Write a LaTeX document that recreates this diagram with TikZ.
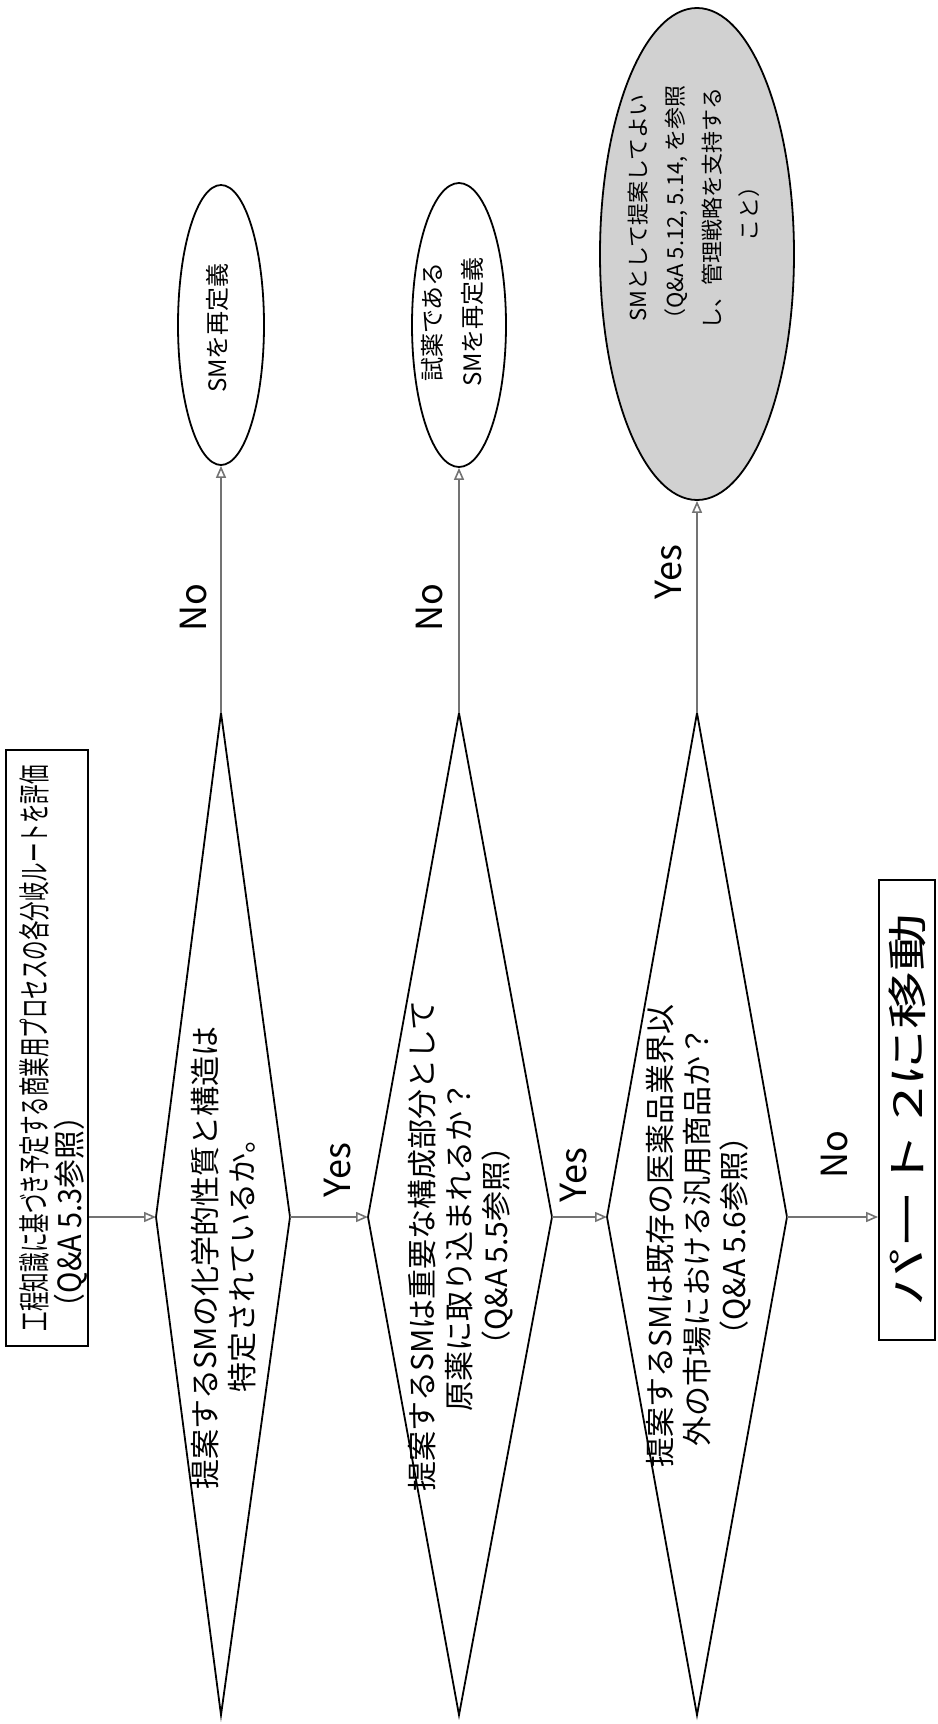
\documentclass[tikz,border=0pt]{standalone}
\usepackage{fontspec}
\setmainfont{Noto Sans CJK JP}
\usepackage{graphicx}
\usetikzlibrary{arrows.meta,shapes.geometric}
\begin{document}
\begin{tikzpicture}[x=0.5pt,y=-0.5pt,
  conn/.style={draw=black!55, line width=1pt, -{Triangle[open,length=6pt,width=5pt,line width=0.8pt]}},
  shapeline/.style={draw=black, line width=0.9pt},
  vtext/.style={rotate=90, align=center, inner sep=0pt},
  lbl/.style={vtext, font=\fontsize{18pt}{20pt}\selectfont},
  dtext/.style={vtext, font=\fontsize{15pt}{18.5pt}\selectfont},
  etext/.style={vtext, font=\fontsize{12pt}{20pt}\selectfont},
  ovalbox/.style={ellipse, shapeline, inner sep=0pt},
]
\useasboundingbox (0,0) rectangle (937,1724);

% title box
\node[shapeline, rectangle, minimum width=41pt, minimum height=298pt, inner sep=0pt] (title) at (47,1048) {};
\node[vtext, font=\fontsize{16pt}{18pt}\selectfont] (title1) at (34,1048) {\scalebox{0.61}[1]{工程知識に基づき予定する商業用プロセスの各分岐ルートを評価}};
\node[vtext, font=\fontsize{16pt}{18pt}\selectfont] (title2) at (71,1212) {\scalebox{0.9}[1]{（Q\&A 5.3参照）}};

% diamonds
\coordinate (d1t) at (221,713); \coordinate (d1r) at (290,1217);
\coordinate (d1b) at (221,1715); \coordinate (d1l) at (156,1217);
\draw[shapeline] (d1t)--(d1r)--(d1b)--(d1l)--cycle;
\node[dtext] (q1) at (224,1258) {提案するSMの化学的性質と構造は\\特定されているか。};

\coordinate (d2t) at (459,713); \coordinate (d2r) at (552,1217);
\coordinate (d2b) at (459,1715); \coordinate (d2l) at (368,1217);
\draw[shapeline] (d2t)--(d2r)--(d2b)--(d2l)--cycle;
\node[dtext] (q2) at (461,1246) {提案するSMは重要な構成部分として\\原薬に取り込まれるか？\\（Q\&A 5.5参照）};

\coordinate (d3t) at (697,713); \coordinate (d3r) at (787,1217);
\coordinate (d3b) at (697,1715); \coordinate (d3l) at (607,1217);
\draw[shapeline] (d3t)--(d3r)--(d3b)--(d3l)--cycle;
\node[dtext] (q3) at (699,1236) {提案するSMは既存の医薬品業界以\\外の市場における汎用商品か？\\（Q\&A 5.6参照）};

% ellipses
\node[ovalbox, minimum width=43pt, minimum height=140pt] (e1) at (221,325) {};
\node[etext] (e1t) at (217,328) {SMを再定義};
\node[ovalbox, minimum width=47pt, minimum height=142pt] (e2) at (459,325) {};
\node[etext] (e2t) at (452,322) {試薬である\\SMを再定義};
\node[ovalbox, fill=black!18, minimum width=97pt, minimum height=246pt] (e3) at (697,254) {};
\node[vtext, font=\fontsize{11pt}{18.5pt}\selectfont] (e3t) at (694,208) {SMとして提案してよい\\（Q\&A 5.12, 5.14, を参照\\し、管理戦略を支持する\\こと）};

% part 2 box
\node[shapeline, minimum width=28pt, minimum height=230pt, inner sep=0pt] (p2) at (907,1110) {\rotatebox{90}{\fontsize{20pt}{22pt}\selectfont\scalebox{1.45}[1]{パート 2に移動}}};

% connectors
\draw[conn] (title.east |- d1l) -- (d1l);
\draw[conn] (d1r) -- (d2l);
\draw[conn] (d2r) -- (d3l);
\draw[conn] (d3r) -- (d3r -| p2.west);
\draw[conn] (d1t) -- (e1.south);
\draw[conn] (d2t) -- (e2.south);
\draw[conn] (d3t) -- (e3.south);

% labels
\node[lbl] (no1) at (194,608) {No};
\node[lbl] (no2) at (430,608) {No};
\node[lbl] (yes3) at (669,572) {Yes};
\node[lbl] (yes1) at (338,1170) {Yes};
\node[lbl] (yes2) at (574,1175) {Yes};
\node[lbl] (no3) at (835,1155) {No};
\end{tikzpicture}
\end{document}
